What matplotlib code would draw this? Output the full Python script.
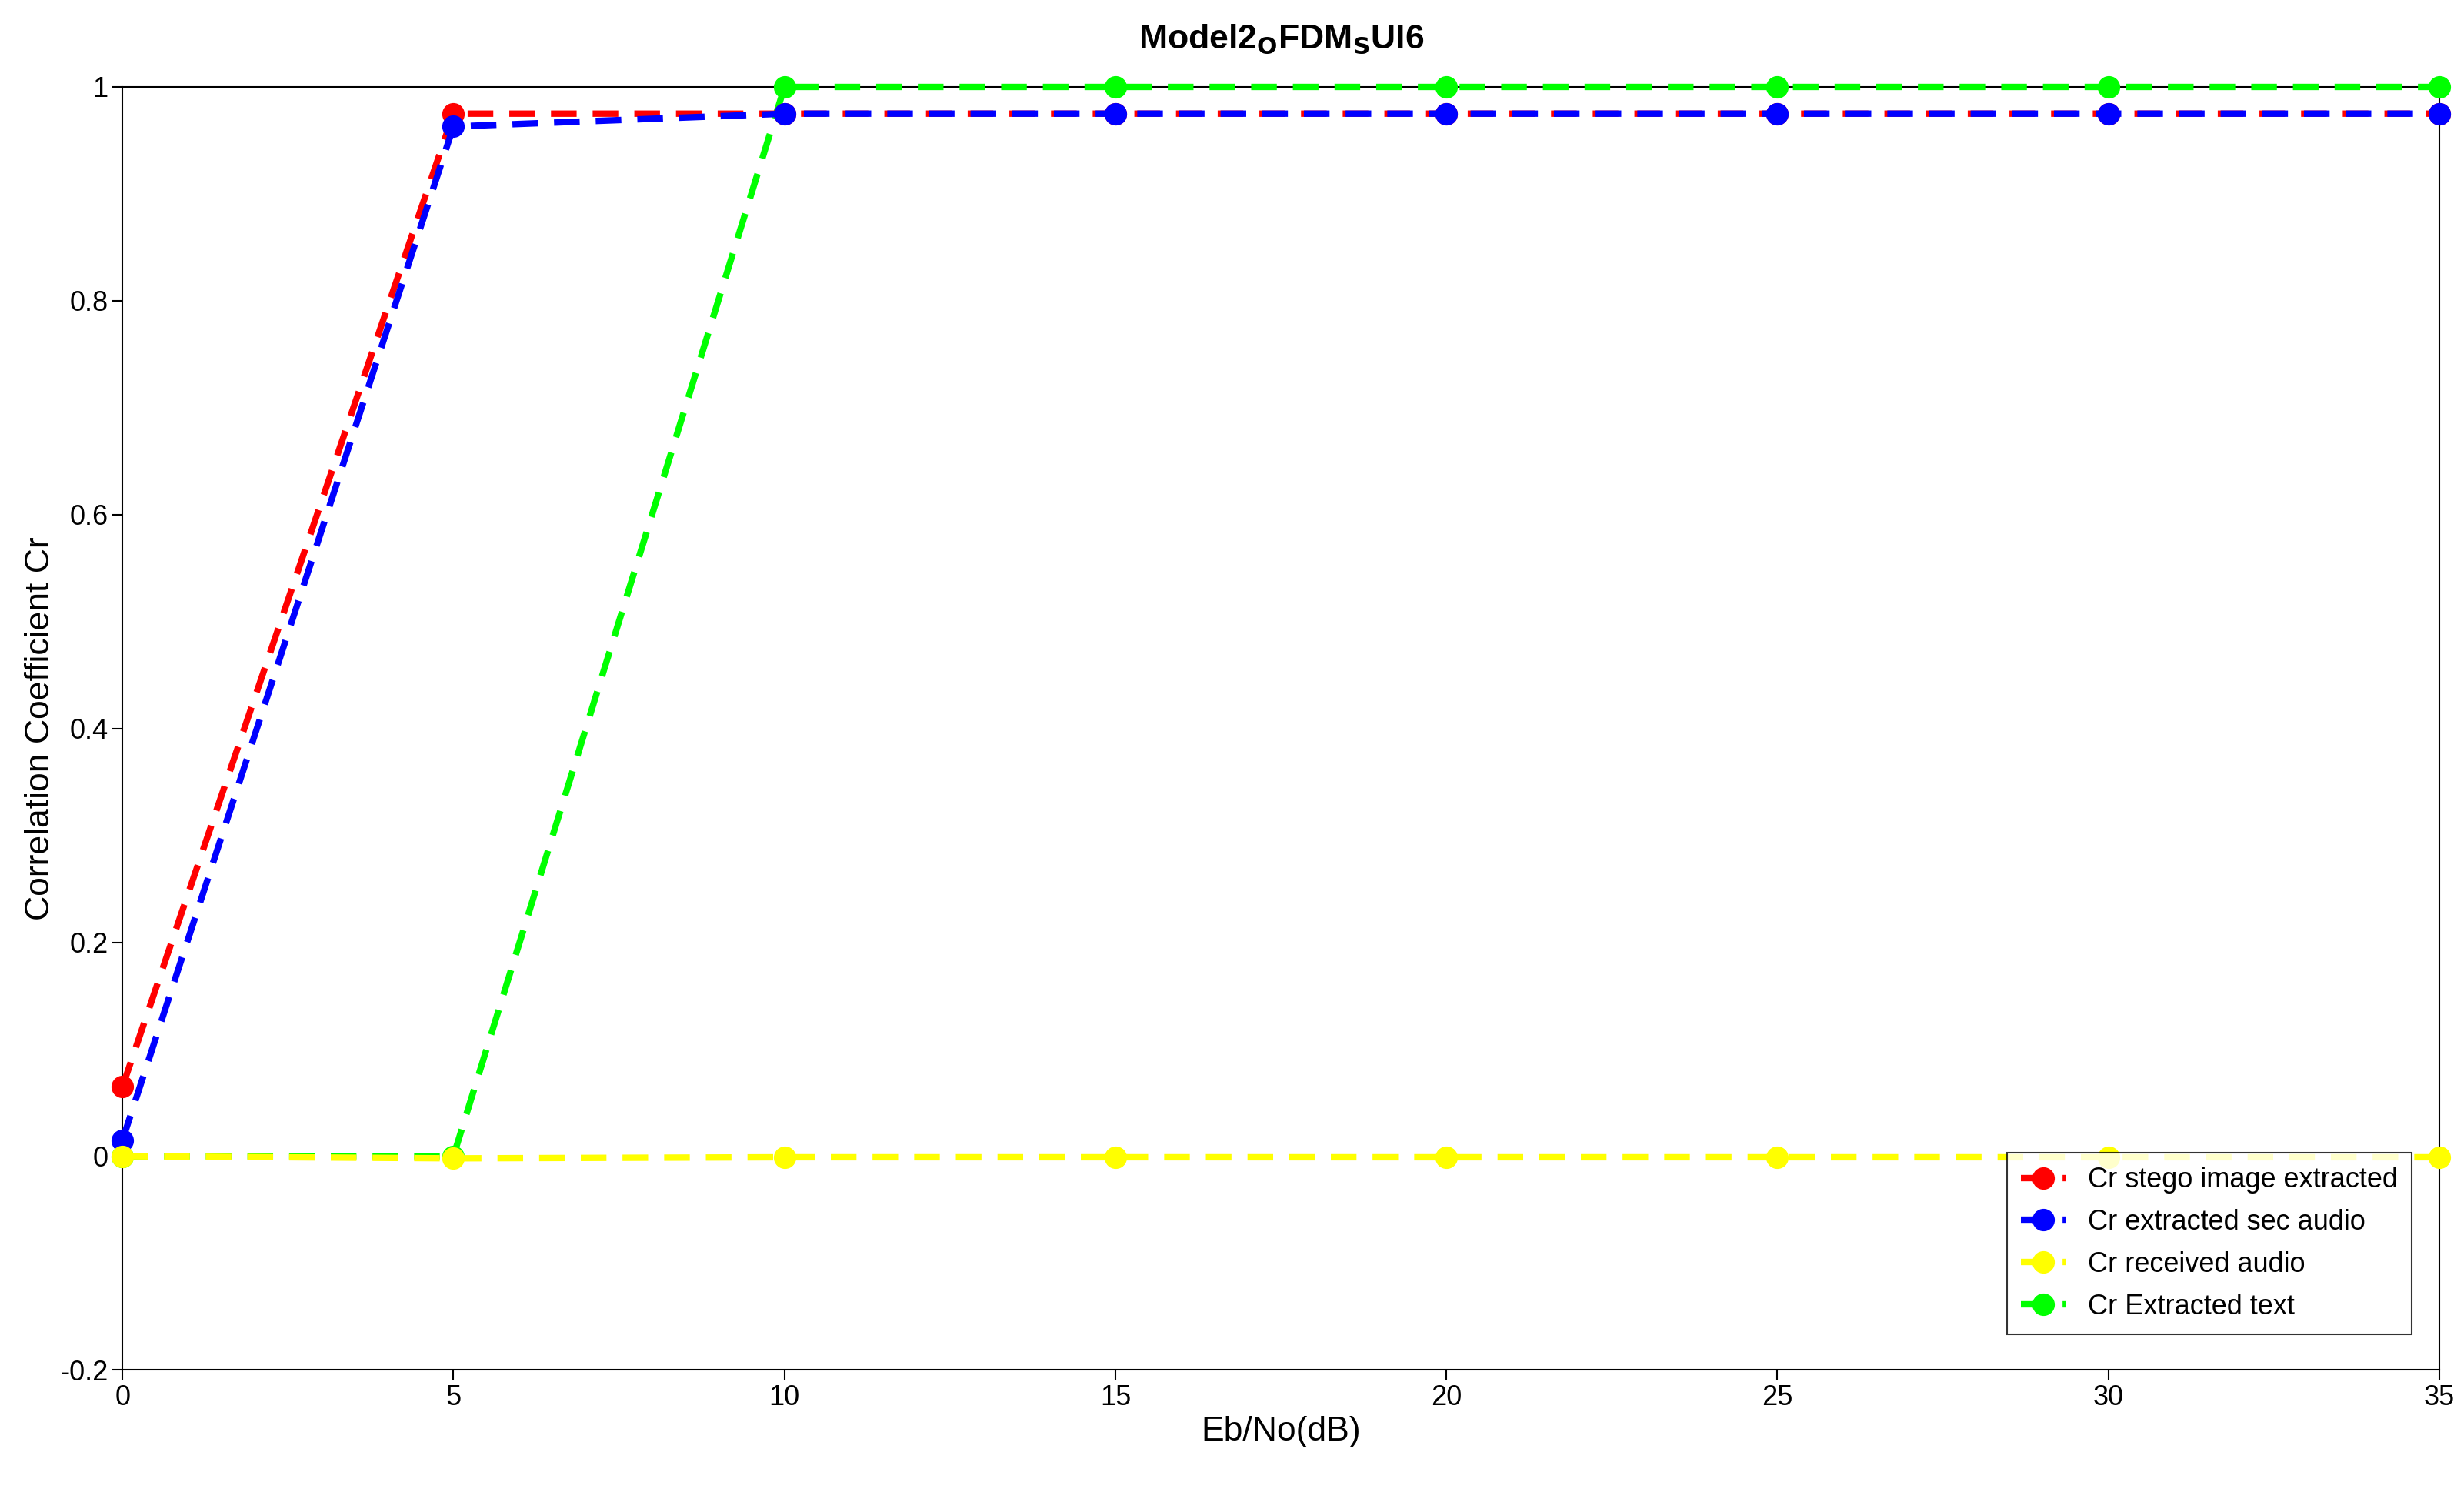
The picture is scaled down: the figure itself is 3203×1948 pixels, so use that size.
import matplotlib
matplotlib.use('Agg')
import matplotlib.pyplot as plt

plt.rcParams['font.family'] = ['Liberation Sans', 'DejaVu Sans']

x = [0, 5, 10, 15, 20, 25, 30, 35]
red = [0.065, 0.975, 0.975, 0.975, 0.975, 0.975, 0.975, 0.975]
blue = [0.015, 0.963, 0.975, 0.975, 0.975, 0.975, 0.975, 0.975]
yellow = [0.0, -0.002, -0.001, -0.001, -0.001, -0.001, -0.001, -0.001]
green = [0.0, 0.0, 1.0, 1.0, 1.0, 1.0, 1.0, 1.0]
labels = ['Cr stego image extracted', 'Cr extracted sec audio', 'Cr received audio', 'Cr Extracted text']

fig = plt.figure(figsize=(32.03, 19.48), dpi=100)
ax = fig.add_axes([0.0497, 0.086, 0.9403, 0.856])
zs = [4, 5, 6, 3]
for y, c, l, z in zip([red, blue, yellow, green], ['#ff0000', '#0000ff', '#ffff00', '#00ff00'], labels, zs):
    ax.plot(x, y, '--', color=c, lw=6, marker='o', markersize=20, label=l, zorder=z, clip_on=False,
            dashes=(4, 2.5))
ax.set_xlim(0, 35)
ax.set_ylim(-0.2, 1)
ax.set_xticks(x)
ax.set_yticks([-0.2, 0, 0.2, 0.4, 0.6, 0.8, 1])
ax.set_yticklabels(['-0.2', '0', '0.2', '0.4', '0.6', '0.8', '1'])
ax.tick_params(labelsize=26, length=10, width=1.5)
for s in ax.spines.values():
    s.set_linewidth(1.5)
ax.set_xlabel('Eb/No(dB)', fontsize=32)
ax.set_ylabel('Correlation Coefficient Cr', fontsize=32)
fig.text(0.52, 0.985, r'Model2$_{\mathbf{O}}$FDM$_{\mathbf{S}}$UI6', fontsize=32, fontweight='bold',
         ha='center', va='top')
leg = ax.legend(loc='lower right', fontsize=26, fancybox=False, edgecolor='black',
                bbox_to_anchor=(0.988, 0.028), borderaxespad=0, handlelength=1.6,
                labelspacing=0.55, borderpad=0.5)
leg.get_frame().set_linewidth(1.5)
leg.set_zorder(10)
fig.savefig('out.png', dpi=100, facecolor='white')
